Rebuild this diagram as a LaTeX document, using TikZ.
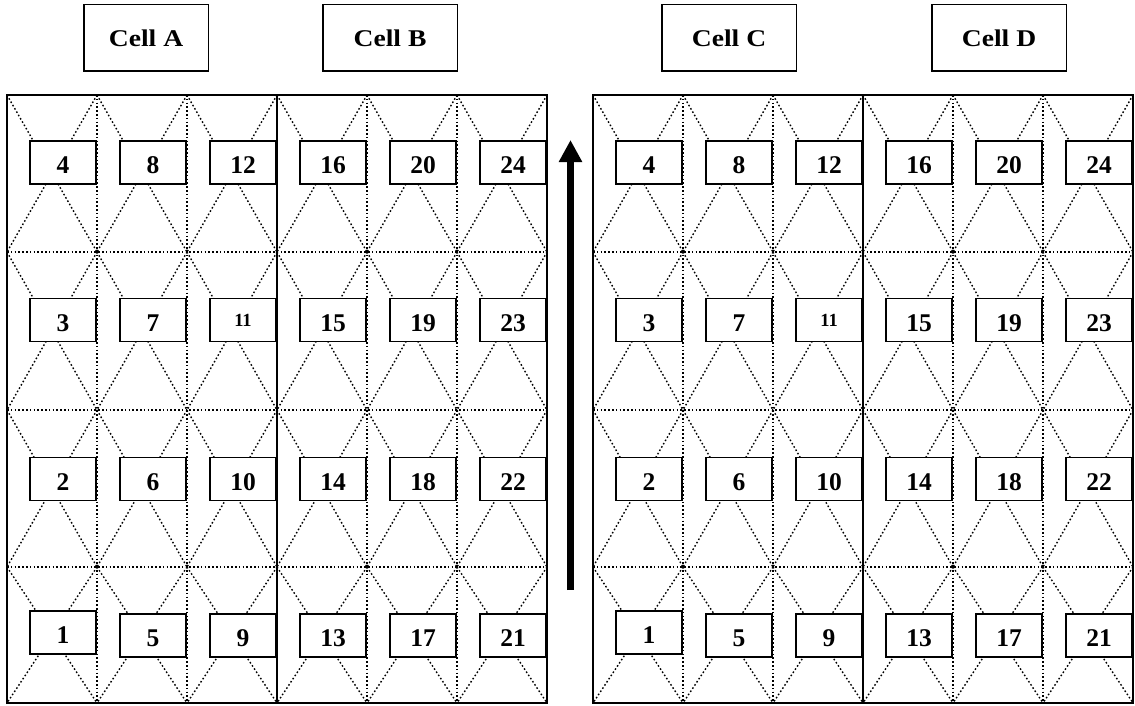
\documentclass[tikz,border=0pt]{standalone}
\usepackage{fontspec}
\usepackage{graphicx}
\setmainfont{Liberation Serif}
\usetikzlibrary{arrows.meta}
\begin{document}
\begin{tikzpicture}[x=1pt,y=-1pt,
  dotline/.style={line width=1.4pt, dash pattern=on 1.6pt off 2.2pt},
  frame/.style={line width=2pt},
  midline/.style={line width=1.5pt},
  numbox/.style={draw, fill=white, line width=1.8pt, minimum width=66pt, minimum height=43pt, inner sep=0pt, font=\bfseries\fontsize{25.5}{25.5}\selectfont, text height=22pt, text depth=0pt},
  smallnum/.style={font=\bfseries\fontsize{18.5}{18.5}\selectfont, text height=12.5pt},
  cellbox/.style={draw, line width=1.5pt, minimum height=66.5pt, inner sep=0pt, font=\bfseries\fontsize{24}{24}\selectfont},
  bigarrow/.style={line width=7pt, -{Triangle[length=22pt,width=22pt]}}
]
\useasboundingbox (0,0) rectangle (1135,706);

% dotted grid
\foreach \ox/\p in {0/L,586/R} {
  \foreach \xv in {97,187,367,457} {
    \draw[dotline] (\ox+\xv,95) -- (\ox+\xv,703);
  }
  \foreach \yv in {252,410,567} {
    \draw[dotline] (\ox+7,\yv) -- (\ox+547,\yv);
  }
  \foreach \xa/\xb in {7/97,97/187,187/277,277/367,367/457,457/547} {
    \foreach \ya/\yb in {95/252,252/410,410/567,567/703} {
      \draw[dotline] (\ox+\xa,\ya) -- (\ox+\xb,\yb);
      \draw[dotline] (\ox+\xb,\ya) -- (\ox+\xa,\yb);
    }
  }
}

% number boxes
\foreach \ox/\p in {0/L,586/R} {
  \foreach \c/\xc in {0/7,1/97,2/187,3/277,4/367,5/457} {
    \foreach \r/\yc in {1/635.5,2/479,3/320,4/162.5} {
      \pgfmathtruncatemacro{\n}{4*\c+\r}
      \ifnum\n=1
        \node[numbox] (\p\n) at (\ox+\xc+56,632.5) {\n};
      \else\ifnum\n=11
        \node[numbox,smallnum] (\p\n) at (\ox+\xc+56,\yc) {\n};
      \else
        \node[numbox] (\p\n) at (\ox+\xc+56,\yc) {\n};
      \fi\fi
    }
  }
}

% frames
\foreach \ox in {0,586} {
  \draw[frame] (\ox+7,95) rectangle (\ox+547,703);
  \draw[midline] (\ox+277,95) -- (\ox+277,703);
}

% headers
\node[cellbox, minimum width=124.5pt] (cellA) at (146,38) {\scalebox{1.15}[1]{Cell A}};
\node[cellbox, minimum width=134.5pt] (cellB) at (390,38) {\scalebox{1.15}[1]{Cell B}};
\node[cellbox, minimum width=134.5pt] (cellC) at (729,38) {\scalebox{1.15}[1]{Cell C}};
\node[cellbox, minimum width=134.5pt] (cellD) at (999,38) {\scalebox{1.15}[1]{Cell D}};

% arrow
\coordinate (arrowfoot) at (570.5,590);
\coordinate (arrowtip) at (570.5,140);
\draw[bigarrow] (arrowfoot) -- (arrowtip);
\end{tikzpicture}
\end{document}
